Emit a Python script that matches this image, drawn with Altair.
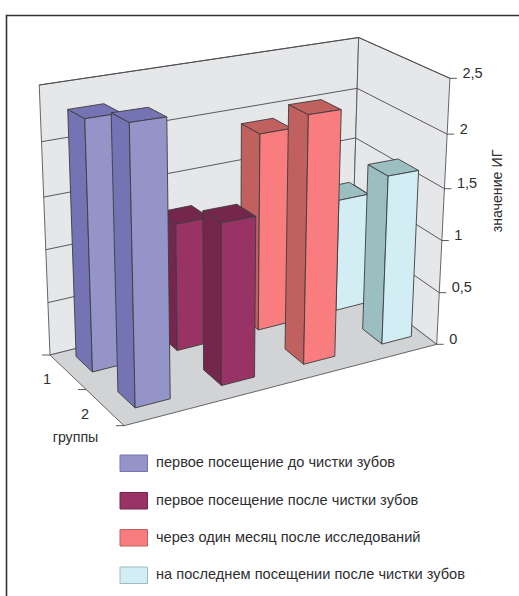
import altair as alt
import numpy as np
import pandas as pd

# Index values per series, one number for each group
series_names = [
    "первое посещение до чистки зубов",
    "первое посещение после чистки зубов",
    "через один месяц после исследований",
    "на последнем посещении после чистки зубов",
]
group_1 = [2.29, 1.20, 1.90, 1.11]
group_2 = [2.44, 1.47, 2.28, 1.61]
front_colors = ["#9494c8", "#993366", "#f97c7f", "#d2edf4"]
side_colors = ["#7474b4", "#75264d", "#c0605f", "#9bbfc0"]
value_ticks = [0, 0.5, 1, 1.5, 2, 2.5]
value_labels = ["0", "0,5", "1", "1,5", "2", "2,5"]
group_labels = ["1", "2"]

# Fraction of the wall height reached by each tick (foreshortened towards the floor)
tick_fractions = [0, 0.194, 0.39, 0.585, 0.79, 1]

Z_MAX = 2.5
WIDTH, HEIGHT = 519, 596
INK = "#3c3c3e"


def homography(quad):
    """Map the unit square (u, v) onto a quadrilateral given as A, B, C, D."""
    src = [(0, 0), (1, 0), (1, 1), (0, 1)]
    rows, rhs = [], []
    for (u, v), (x, y) in zip(src, quad):
        rows.append([u, v, 1, 0, 0, 0, -u * x, -v * x])
        rows.append([0, 0, 0, u, v, 1, -u * y, -v * y])
        rhs += [x, y]
    return np.append(np.linalg.solve(np.array(rows, float), np.array(rhs, float)), 1).reshape(3, 3)


# Camera frame: floor corners, wall height at each corner, vanishing point of the verticals
FLOOR = homography([(50, 355), (351.5, 279.5), (436.7, 344.3), (124, 425.7)])
CORNER_HEIGHTS = (270, 242, 266, 300)
VANISH = np.array([222.0, 4664.0])


def project(u, v, z):
    p = FLOOR @ np.array([u, v, 1.0])
    p = p[:2] / p[2]
    ha, hb, hc, hd = CORNER_HEIGHTS
    full = (1 - u) * (1 - v) * ha + u * (1 - v) * hb + u * v * hc + (1 - u) * v * hd
    t = np.interp(z, value_ticks, tick_fractions)
    s = full * t / (VANISH[1] - p[1])
    return tuple(p - (VANISH - p) * s)


rows = []


def face(name, points, fill, stroke=INK, sw=0.9):
    closed = points + points[:1] if fill != "none" else points
    for k, (x, y) in enumerate(closed):
        rows.append(dict(face=name, k=k, px=x, py=y, fill=fill, stroke=stroke, sw=sw))


# Walls and floor
face("back", [project(0, 0, 0), project(1, 0, 0), project(1, 0, Z_MAX), project(0, 0, Z_MAX)], "#e6e7e8", "#55565a")
face("right", [project(1, 0, 0), project(1, 1, 0), project(1, 1, Z_MAX), project(1, 0, Z_MAX)], "#e6e7e8", "#55565a")
face("floor", [project(0, 0, 0), project(1, 0, 0), project(1, 1, 0), project(0, 1, 0)], "#d1d3d4", "#55565a")

# Gridlines across both walls, with a tick to the right of the front edge
for z in value_ticks[1:]:
    face(f"grid{z}", [project(0, 0, z), project(1, 0, z), project(1, 1, z)], "none", "#4a4a4c")
for z in value_ticks:
    x, y = project(1, 1, z)
    face(f"vtick{z}", [(x, y), (x + 7, y)], "none", "#4a4a4c")

# Depth axis ticks along the left floor edge
for v in [0, 0.5, 1]:
    x, y = project(0, v, 0)
    face(f"dtick{v}", [(x - 8, y), (x, y)], "none", "#4a4a4c")

# Bars, back row first so the front row overlaps it; bars narrow slightly with distance
BAR_W, BAR_D = 0.11, 0.225
rows_layout = [
    (group_1, 0.32, 0.117, 0.27, 0.975),
    (group_2, 0.84, 0.128, 0.27, 0.97),
]
for g, (values, v_front, center, step, shrink) in enumerate(rows_layout):
    for s, val in enumerate(values):
        half = BAR_W * 0.96 ** s / 2
        u0, u1 = center - half, center + half
        center += step * shrink ** s
        v0, v1 = v_front - BAR_D, v_front
        key = f"bar{g}{s}"
        face(key + "side", [project(u0, v0, 0), project(u0, v1, 0), project(u0, v1, val), project(u0, v0, val)], side_colors[s])
        face(key + "top", [project(u0, v0, val), project(u1, v0, val), project(u1, v1, val), project(u0, v1, val)], side_colors[s])
        face(key + "front", [project(u0, v1, 0), project(u1, v1, 0), project(u1, v1, val), project(u0, v1, val)], front_colors[s])

# Page frame: a rule along the top and down the left side
face("frame", [(WIDTH, 15.5), (6.5, 15.5), (6.5, HEIGHT)], "none", "#333335", 1.6)

x_scale = alt.Scale(domain=[0, WIDTH], range=[0, WIDTH], nice=False, zero=False)
y_scale = alt.Scale(domain=[0, HEIGHT], range=[0, HEIGHT], nice=False, zero=False)
X = alt.X("px:Q", scale=x_scale, axis=None)
Y = alt.Y("py:Q", scale=y_scale, axis=None)

shapes = pd.DataFrame(rows)
polygons = alt.Chart(shapes).mark_line(strokeJoin="miter", strokeCap="butt", interpolate="linear").encode(
    x=X,
    y=Y,
    order="k:Q",
    detail="face:N",
    fill=alt.Fill("fill:N", scale=None),
    stroke=alt.Stroke("stroke:N", scale=None),
    strokeWidth=alt.StrokeWidth("sw:Q", scale=None),
)

# Legend swatches
legend_tops = [455, 492.5, 529.5, 567]
swatches = pd.DataFrame(
    dict(px=[120] * 4, px2=[147.5] * 4, py=legend_tops, py2=[t + 16.5 for t in legend_tops], fill=front_colors, stroke=side_colors)
)
legend_marks = alt.Chart(swatches).mark_rect(strokeWidth=1).encode(
    x=X, x2="px2:Q", y=Y, y2="py2:Q",
    fill=alt.Fill("fill:N", scale=None),
    stroke=alt.Stroke("stroke:N", scale=None),
)

# All texts
texts = [dict(px=156, py=t + 8, text=n, angle=0, align="left", size=14.6) for t, n in zip(legend_tops, series_names)]
for z, lab in zip(value_ticks, value_labels):
    x, y = project(1, 1, z)
    texts.append(dict(px=x + 12.5, py=y - 4.5, text=lab, angle=0, align="left", size=14.5))
depth_label_spots = [(47, 380), (85, 415)]
for (x, y), lab in zip(depth_label_spots, group_labels):
    texts.append(dict(px=x, py=y, text=lab, angle=0, align="center", size=14.5))
texts.append(dict(px=75.5, py=438, text="группы", angle=0, align="center", size=14.2))
texts.append(dict(px=498, py=191, text="значение ИГ", angle=270, align="center", size=14.2))

label_font = "Liberation Sans"
text_layers = []
for angle in [0, 270]:
    for align in ["left", "center"]:
        subset = [t for t in texts if t["angle"] == angle and t["align"] == align]
        if subset:
            text_layers.append(
                alt.Chart(pd.DataFrame(subset))
                .mark_text(font=label_font, align=align, baseline="middle", angle=angle, color="#2e2e30")
                .encode(x=X, y=Y, text="text:N", size=alt.Size("size:Q", scale=None))
            )

chart = alt.layer(polygons, legend_marks, *text_layers).properties(
    width=WIDTH,
    height=HEIGHT,
    padding=0,
    autosize=alt.AutoSizeParams(type="none"),
    background="white",
).configure_view(stroke=None)

chart.save("out.html", embed_options={"renderer": "svg", "actions": False})
